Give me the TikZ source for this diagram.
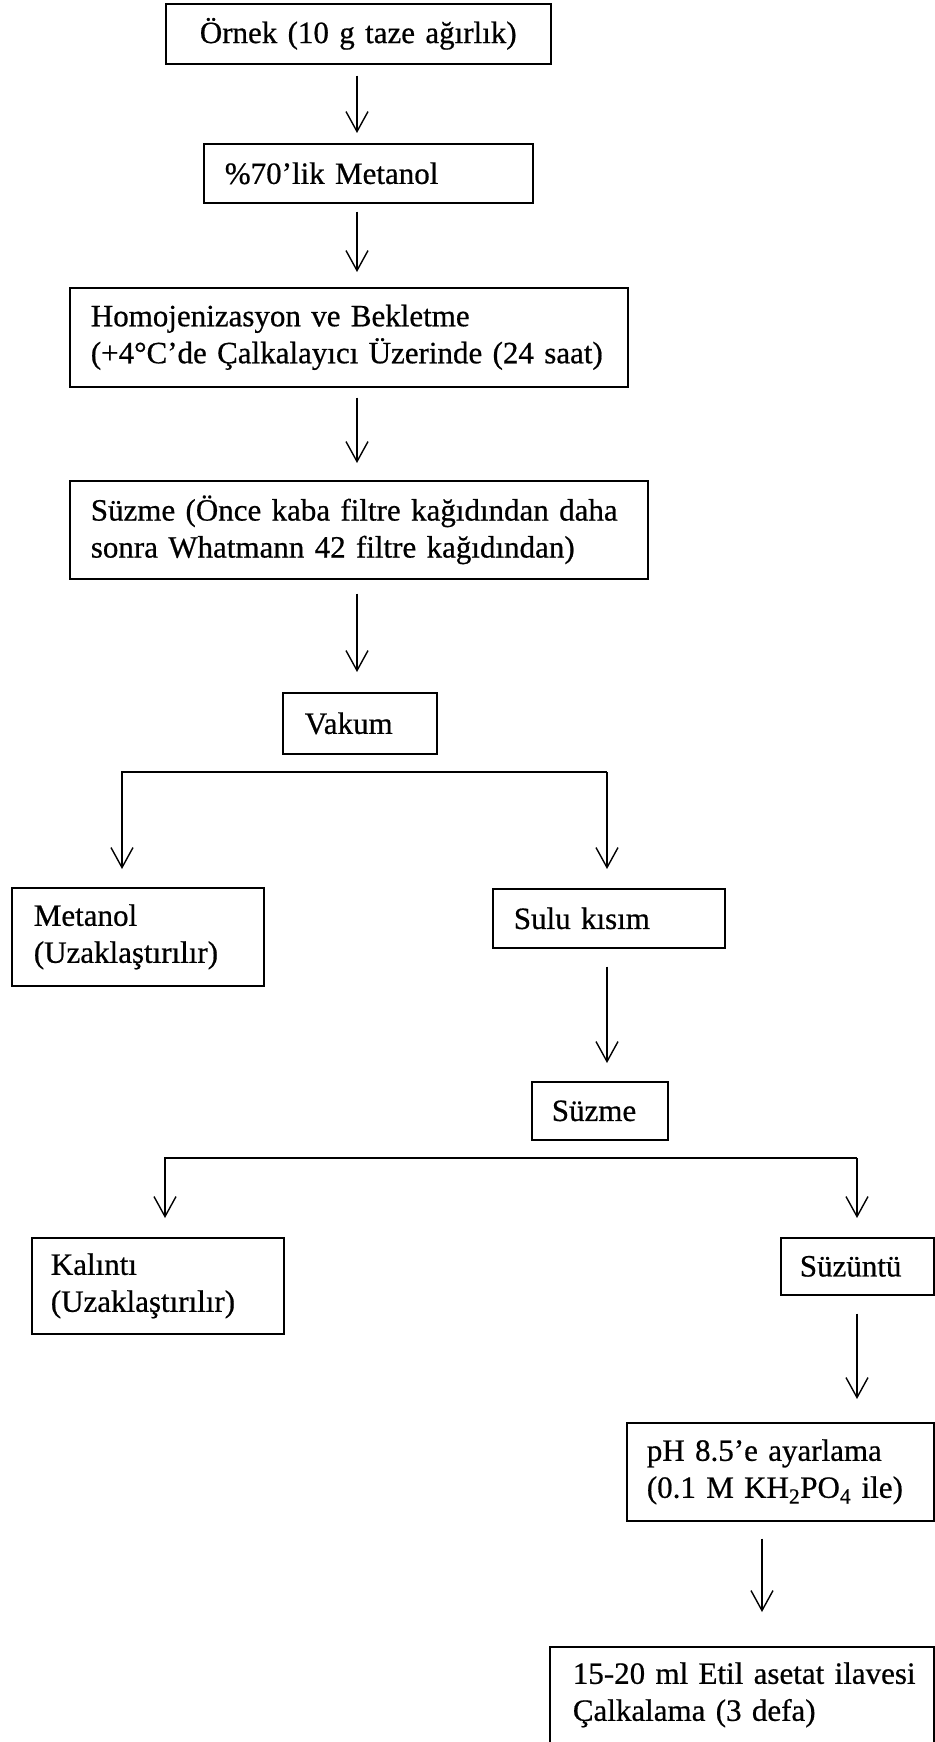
\documentclass[tikz,border=0pt]{standalone}
\usepackage{fontspec}
\setmainfont{Liberation Serif}[FakeBold=0.4]
\newfontfamily\boxfont{Liberation Serif}[FakeBold=0.6]
\usetikzlibrary{arrows.meta}
\tikzset{
  box/.style={draw, line width=1.7pt, rectangle, anchor=north west, align=left,
    inner ysep=0pt, font=\boxfont\fontsize{31}{37}\selectfont},
  arr/.style={line width=1.4pt, -{Straight Barb[length=20pt,width=22pt,line width=1.4pt]}},
}
\newcommand{\bx}[8]{% name, x1, y1, x2, y2, pad, text, options
  \pgfmathsetlengthmacro{\bxW}{(#4-#2)*1pt}%
  \pgfmathsetlengthmacro{\bxH}{(#5-#3)*1pt}%
  \pgfmathsetlengthmacro{\bxT}{(#4-#2-2*#6)*1pt}%
  \node[box, minimum width=\bxW, minimum height=\bxH, text width=\bxT, inner xsep=#6pt, #8] (#1) at (#2,#3) {#7};}
\begin{document}
\begin{tikzpicture}[x=1pt,y=-1pt]
\useasboundingbox (0,0) rectangle (934,1742);
\bx{n1}{165}{3}{550}{63}{34}{Örnek (10 g taze ağırlık)}{}
\bx{n2}{203}{143}{532}{202}{21}{\%70’lik Metanol}{}
\bx{n3}{69}{287}{627}{386}{21}{\mbox{Homojenizasyon ve Bekletme}\\\mbox{(+4°C’de Çalkalayıcı Üzerinde (24 saat)}}{}
\bx{n4}{69}{480}{647}{578}{21}{\mbox{Süzme (Önce kaba filtre kağıdından daha}\\\mbox{sonra Whatmann 42 filtre kağıdından)}}{}
\bx{n5}{282}{692}{436}{753}{22}{Vakum}{}
\bx{n6}{11}{887}{263}{985}{22}{Metanol\\\mbox{(Uzaklaştırılır)}}{}
\bx{n7}{492}{888}{724}{947}{21}{Sulu kısım}{}
\bx{n8}{531}{1081}{667}{1139}{20}{Süzme}{}
\bx{n9}{31}{1237}{283}{1333}{19}{Kalıntı\\\mbox{(Uzaklaştırılır)}}{}
\bx{n10}{780}{1237}{933}{1294}{19}{Süzüntü}{}
\bx{n11}{626}{1422}{933}{1520}{20}{\mbox{pH 8.5’e ayarlama}\\\mbox{(0.1 M KH\textsubscript{2}PO\textsubscript{4} ile)}}{}
\bx{n12}{549}{1646}{933}{1742}{23}{\mbox{15-20 ml Etil asetat ilavesi}\\\mbox{Çalkalama (3 defa)}}{}
% arrows in the main column
\coordinate (col) at (357,0);
\draw[arr, shorten <=11pt, shorten >=10pt] (col |- n1.south) -- (col |- n2.north);
\draw[arr, shorten <=8pt, shorten >=15pt] (col |- n2.south) -- (col |- n3.north);
\draw[arr, shorten <=10pt, shorten >=17pt] (col |- n3.south) -- (col |- n4.north);
\draw[arr, shorten <=14pt, shorten >=20pt] (col |- n4.south) -- (col |- n5.north);
% first split
\coordinate (bL) at (122,772);
\coordinate (bR) at (607,772);
\draw[arr, shorten >=18pt] (bR) -- (bL) -- (bL |- n6.north);
\draw[arr, shorten >=19pt] (bR) -- (bR |- n7.north);
\draw[arr, shorten <=18pt, shorten >=18pt] (bR |- n7.south) -- (bR |- n8.north);
% second split
\coordinate (cL) at (165,1158);
\coordinate (cR) at (857,1158);
\draw[arr, shorten >=19pt] (cR) -- (cL) -- (cL |- n9.north);
\draw[arr, shorten >=19pt] (cR) -- (cR |- n10.north);
\draw[arr, shorten <=18pt, shorten >=23pt] (cR |- n10.south) -- (cR |- n11.north);
\coordinate (dcol) at (762,0);
\draw[arr, shorten <=17pt, shorten >=34pt] (dcol |- n11.south) -- (dcol |- n12.north);
\end{tikzpicture}
\end{document}
